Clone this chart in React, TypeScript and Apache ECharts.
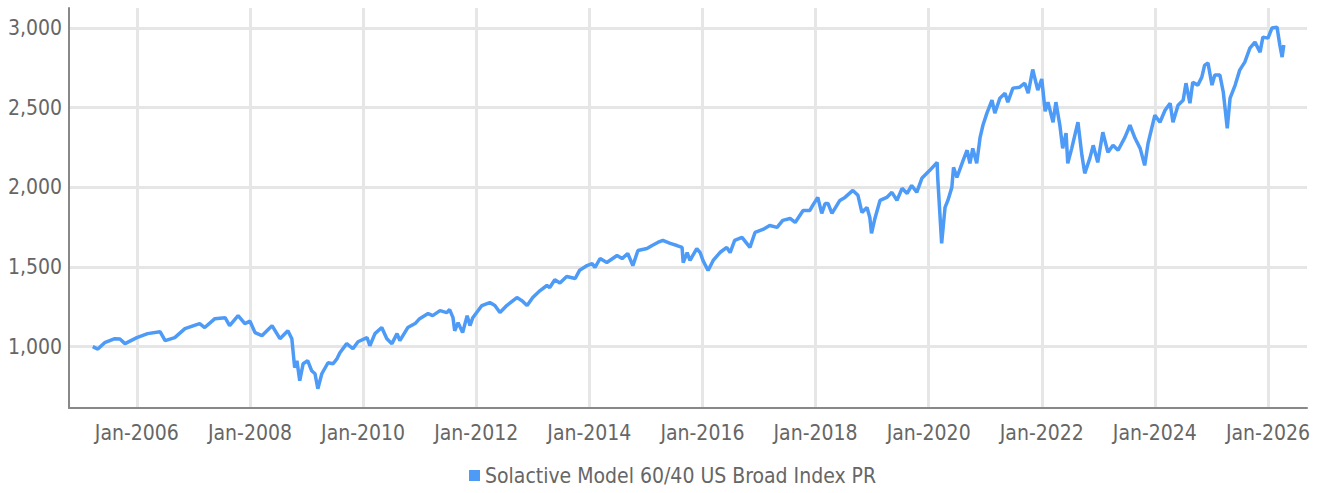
import React, { useEffect, useRef } from "react";
import * as echarts from "echarts";

const seriesName = "Solactive Model 60/40 US Broad Index PR";

// decimal year, index level
const years: number[] = [
  2005.22, 2005.31, 2005.43, 2005.61, 2005.70, 2005.79, 2006.0, 2006.19, 2006.41, 2006.5,
  2006.67, 2006.85, 2007.11, 2007.2, 2007.38, 2007.56, 2007.64, 2007.79, 2007.91, 2008.0,
  2008.09, 2008.21, 2008.39, 2008.53, 2008.67, 2008.74, 2008.79, 2008.83, 2008.88, 2008.94,
  2009.02, 2009.09, 2009.15, 2009.2, 2009.27, 2009.38, 2009.47, 2009.54, 2009.59, 2009.71,
  2009.82, 2009.91, 2010.07, 2010.12, 2010.21, 2010.33, 2010.42, 2010.51, 2010.6, 2010.65,
  2010.79, 2010.92, 2011.0, 2011.15, 2011.23, 2011.36, 2011.48, 2011.53, 2011.59, 2011.62,
  2011.68, 2011.76, 2011.84, 2011.89, 2011.94, 2012.1, 2012.24, 2012.33, 2012.42, 2012.54,
  2012.72, 2012.81, 2012.9, 2013.0, 2013.13, 2013.25, 2013.3, 2013.39, 2013.48, 2013.6,
  2013.75, 2013.83, 2013.96, 2014.05, 2014.1, 2014.19, 2014.31, 2014.49, 2014.58, 2014.68,
  2014.77, 2014.86, 2015.02, 2015.11, 2015.21, 2015.3, 2015.43, 2015.55, 2015.64, 2015.66,
  2015.73, 2015.78, 2015.9, 2015.96, 2016.01, 2016.1, 2016.19, 2016.31, 2016.43, 2016.49,
  2016.57, 2016.7, 2016.84, 2016.93, 2017.07, 2017.19, 2017.32, 2017.42, 2017.55, 2017.64,
  2017.78, 2017.9, 2017.95, 2018.04, 2018.11, 2018.17, 2018.22, 2018.29, 2018.43, 2018.52,
  2018.66, 2018.75, 2018.82, 2018.91, 2018.96, 2018.99, 2019.05, 2019.14, 2019.26, 2019.35,
  2019.44, 2019.53, 2019.62, 2019.7, 2019.79, 2019.88, 2020.02, 2020.15, 2020.16, 2020.23,
  2020.29, 2020.34, 2020.41, 2020.44, 2020.5, 2020.61, 2020.68, 2020.73, 2020.78, 2020.85,
  2020.91, 2020.96, 2021.03, 2021.12, 2021.17, 2021.26, 2021.35, 2021.4, 2021.49, 2021.61,
  2021.7, 2021.76, 2021.84, 2021.93, 2022.0, 2022.06, 2022.11, 2022.2, 2022.25, 2022.32,
  2022.37, 2022.43, 2022.46, 2022.53, 2022.64, 2022.71, 2022.76, 2022.85, 2022.91, 2022.99,
  2023.08, 2023.17, 2023.26, 2023.35, 2023.47, 2023.56, 2023.65, 2023.74, 2023.82, 2023.88,
  2024.0, 2024.09, 2024.18, 2024.27, 2024.32, 2024.41, 2024.5, 2024.55, 2024.62, 2024.67,
  2024.76, 2024.83, 2024.88, 2024.94, 2025.01, 2025.06, 2025.15, 2025.21, 2025.28, 2025.33,
  2025.42, 2025.5, 2025.59, 2025.68, 2025.77, 2025.86, 2025.91, 2026.0, 2026.07, 2026.16,
  2026.21, 2026.25, 2026.28,
];

const values: number[] = [
  1000, 985, 1025, 1050, 1048, 1019, 1057, 1082, 1094, 1038,
  1057, 1113, 1145, 1120, 1176, 1182, 1132, 1195, 1145, 1160,
  1088, 1069, 1132, 1050, 1100, 1050, 868, 912, 786, 893,
  912, 849, 830, 736, 830, 899, 893, 925, 962, 1019,
  987, 1031, 1057, 1006, 1082, 1120, 1050, 1019, 1082, 1038,
  1120, 1145, 1176, 1208, 1195, 1226, 1214, 1233, 1182, 1100,
  1151, 1088, 1195, 1132, 1182, 1258, 1277, 1258, 1214, 1258,
  1308, 1289, 1258, 1308, 1352, 1384, 1371, 1420, 1400, 1440,
  1428, 1480, 1509, 1522, 1497, 1553, 1528, 1572, 1553, 1585,
  1509, 1604, 1616, 1635, 1654, 1667, 1648, 1635, 1623, 1528,
  1591, 1541, 1616, 1591, 1541, 1478, 1541, 1591, 1623, 1591,
  1667, 1686, 1623, 1717, 1736, 1761, 1749, 1793, 1805, 1780,
  1855, 1855, 1887, 1937, 1837, 1899, 1899, 1837, 1918, 1937,
  1981, 1950, 1843, 1874, 1811, 1711, 1805, 1918, 1937, 1969,
  1918, 1994, 1962, 2012, 1969, 2057, 2107, 2157, 2063, 1648,
  1874, 1918, 2000, 2126, 2063, 2170, 2233, 2151, 2245, 2151,
  2314, 2390, 2466, 2547, 2466, 2560, 2591, 2535, 2623, 2629,
  2654, 2591, 2740, 2610, 2680, 2478, 2535, 2409, 2535, 2390,
  2245, 2340, 2151, 2245, 2409, 2201, 2088, 2182, 2264, 2157,
  2346, 2220, 2264, 2233, 2314, 2390, 2308, 2245, 2138, 2277,
  2453, 2409, 2484, 2528, 2409, 2516, 2547, 2654, 2528, 2660,
  2642, 2692, 2767, 2780, 2642, 2705, 2705, 2597, 2371, 2560,
  2642, 2736, 2786, 2874, 2912, 2849, 2943, 2937, 3000, 3006,
  2893, 2818, 2893,
];

const xTickYears: number[] = [2006, 2008, 2010, 2012, 2014, 2016, 2018, 2020, 2022, 2024, 2026];
const yTicks: number[] = [1000, 1500, 2000, 2500, 3000];

const FONT = "'Liberation Sans Narrow', 'DejaVu Sans Condensed', sans-serif";

export default function App() {
  const ref = useRef<HTMLDivElement>(null);
  useEffect(() => {
    if (!ref.current) return;
    const chart = echarts.init(ref.current, undefined, { renderer: "svg" });
    const data = years.map((y, i) => [y, values[i]]);
    chart.setOption({
      animation: false,
      backgroundColor: "#ffffff",
      textStyle: { fontFamily: FONT },
      grid: { left: 69, right: 18, top: 8, bottom: 85, containLabel: false },
      legend: {
        show: true,
        top: 465,
        left: 469,
        padding: 0,
        itemWidth: 11,
        itemHeight: 11,
        itemGap: 10,
        icon: "rect",
        textStyle: { fontFamily: FONT, fontSize: 21, color: "#666666" },
        data: [seriesName],
      },
      xAxis: {
        type: "value",
        min: 2004.8,
        max: 2026.69,
        axisLine: { show: true, lineStyle: { color: "#888888", width: 2 } },
        axisTick: { show: false, customValues: xTickYears },
        axisLabel: {
          customValues: xTickYears,
          formatter: (v: number) => "Jan-" + Math.round(v),
          color: "#666666",
          fontSize: 21,
          fontFamily: FONT,
          margin: 14,
        },
        splitLine: { show: true, lineStyle: { color: "#e6e6e6", width: 3 } },
      },
      yAxis: {
        type: "value",
        min: 615,
        max: 3126,
        axisLine: { show: true, lineStyle: { color: "#888888", width: 2 } },
        axisTick: { show: false, customValues: yTicks },
        axisLabel: {
          customValues: yTicks,
          formatter: (v: number) => v.toLocaleString("en-US"),
          color: "#666666",
          fontSize: 21,
          fontFamily: FONT,
          margin: 7,
        },
        splitLine: { show: true, lineStyle: { color: "#e6e6e6", width: 3 } },
      },
      series: [
        {
          name: seriesName,
          type: "line",
          data,
          showSymbol: false,
          symbol: "none",
          lineStyle: { color: "#4d9bf6", width: 3.5 },
          itemStyle: { color: "#4d9bf6" },
        },
      ],
    });
    return () => chart.dispose();
  }, []);
  return (
    <div
      ref={ref}
      style={{ position: "absolute", left: 0, top: 0, width: 1325, height: 493 }}
    />
  );
}
